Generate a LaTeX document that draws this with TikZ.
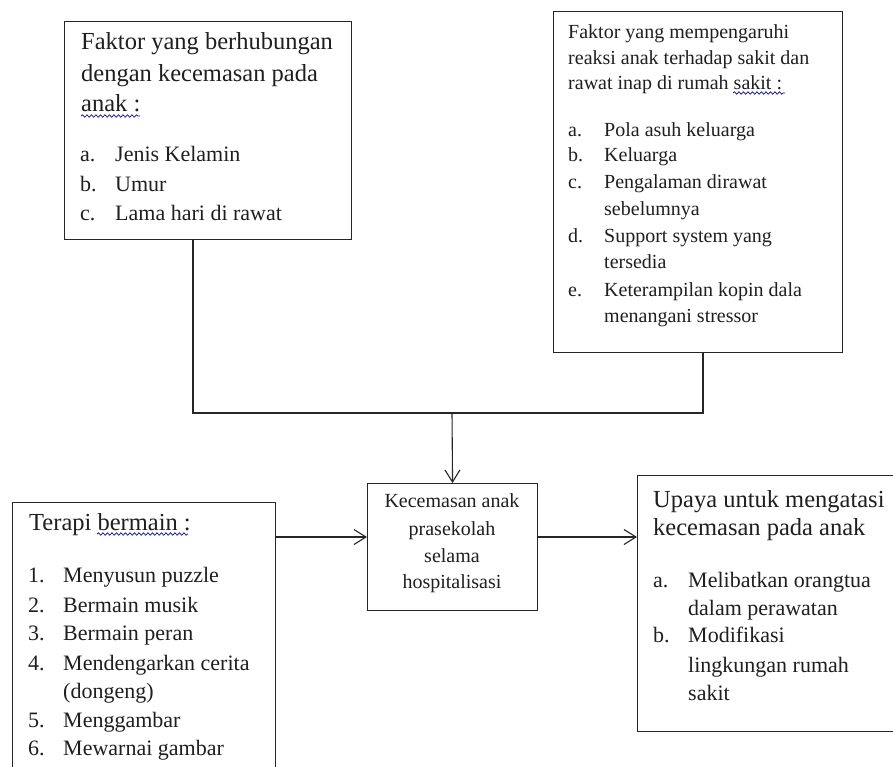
\documentclass[tikz,border=0pt]{standalone}
\usepackage{fontspec}
\setmainfont{Liberation Serif}
\usetikzlibrary{arrows.meta,decorations.pathmorphing}
\begin{document}
\begin{tikzpicture}[x=1pt,y=-1pt,
  box/.style={draw=black!85, line width=1.1pt, rectangle, inner sep=0pt, anchor=north west},
  ln/.style={anchor=base west, inner sep=0pt, text=black!88},
  cl/.style={anchor=base, inner sep=0pt, text=black!88},
  fa/.style={font=\fontsize{24.5}{29}\selectfont},
  fb/.style={font=\fontsize{22}{26}\selectfont},
  fc/.style={font=\fontsize{20}{24}\selectfont},
  conn/.style={draw=black!85, line width=1.1pt},
  arr/.style={conn, -{Straight Barb[length=12pt,width=15pt,line width=1.1pt]}},
  wavy/.style={draw=blue!70!black, line width=0.7pt, decorate, decoration={snake, amplitude=1.2pt, segment length=4.5pt}}
]
\clip (0,0) rectangle (893,767);
\fill[white] (0,0) rectangle (893,767);

% boxes
\node[box, minimum width=287pt, minimum height=218pt] (b1) at (64,21) {};
\node[box, minimum width=289pt, minimum height=341pt] (b2) at (553,11) {};
\node[box, minimum width=170pt, minimum height=127pt] (c) at (367,483) {};
\node[box, minimum width=263pt, minimum height=290pt] (l) at (12,502) {};
\node[box, minimum width=280pt, minimum height=256pt] (r) at (637,475) {};

% connectors
\coordinate (j) at (452,413);
\coordinate (ay) at (0,537);
\draw[conn] ([xshift=129pt]b1.south west) |- (j) -| ([xshift=150pt]b2.south west);
\draw[arr] (j) -- (c.north);
\draw[arr] (l.east |- ay) -- (c.west |- ay);
\draw[arr] (c.east |- ay) -- (r.west |- ay);

% box 1 text
\node[ln,fa] (b1h1) at (81,50) {Faktor yang berhubungan};
\node[ln,fa] (b1h2) at (81,82) {dengan kecemasan pada};
\node[ln,fa] (b1h3) at (81,112) {anak :};
\node[ln,fb] (b1a) at (80,162) {a.};
\node[ln,fb] (b1at) at (115,162) {Jenis Kelamin};
\node[ln,fb] (b1b) at (80,192) {b.};
\node[ln,fb] (b1bt) at (115,192) {Umur};
\node[ln,fb] (b1c) at (80,221) {c.};
\node[ln,fb] (b1ct) at (115,221) {Lama hari di rawat};
\draw[wavy] (81,116) -- (140,116);

% box 2 text
\node[ln,fc] (b2h1) at (568,39) {Faktor yang mempengaruhi};
\node[ln,fc] (b2h2) at (568,65) {reaksi anak terhadap sakit dan};
\node[ln,fc] (b2h3) at (568,90) {rawat inap di rumah sakit :};
\node[ln,fc] (b2a) at (568,137) {a.};
\node[ln,fc] (b2at) at (604,137) {Pola asuh keluarga};
\node[ln,fc] (b2b) at (568,162) {b.};
\node[ln,fc] (b2bt) at (604,162) {Keluarga};
\node[ln,fc] (b2c) at (568,189) {c.};
\node[ln,fc] (b2ct) at (604,189) {Pengalaman dirawat};
\node[ln,fc] (b2ct2) at (604,215) {sebelumnya};
\node[ln,fc] (b2d) at (568,243) {d.};
\node[ln,fc] (b2dt) at (604,243) {Support system yang};
\node[ln,fc] (b2dt2) at (604,268) {tersedia};
\node[ln,fc] (b2e) at (568,296) {e.};
\node[ln,fc] (b2et) at (604,296) {Keterampilan kopin dala};
\node[ln,fc] (b2et2) at (604,322) {menangani stressor};
\draw[wavy] (733,93) -- (785,93);

% left box text
\node[ln,fa] (lh) at (29,530) {Terapi bermain :};
\draw[wavy] (97,534) -- (188,534);
\node[ln,fb] (l1) at (28,582) {1.};
\node[ln,fb] (l1t) at (63,582) {Menyusun puzzle};
\node[ln,fb] (l2) at (28,612) {2.};
\node[ln,fb] (l2t) at (63,612) {Bermain musik};
\node[ln,fb] (l3) at (28,640) {3.};
\node[ln,fb] (l3t) at (63,640) {Bermain peran};
\node[ln,fb] (l4) at (28,670) {4.};
\node[ln,fb] (l4t) at (63,670) {Mendengarkan cerita};
\node[ln,fb] (l4t2) at (63,698) {(dongeng)};
\node[ln,fb] (l5) at (28,727) {5.};
\node[ln,fb] (l5t) at (63,727) {Menggambar};
\node[ln,fb] (l6) at (28,755) {6.};
\node[ln,fb] (l6t) at (63,755) {Mewarnai gambar};

% center box text
\node[cl,fc] (c1) at (452,507) {Kecemasan anak};
\node[cl,fc] (c2) at (452,535) {prasekolah};
\node[cl,fc] (c3) at (452,562) {selama};
\node[cl,fc] (c4) at (452,588) {hospitalisasi};

% right box text
\node[ln,fa] (rh1) at (653,507) {Upaya untuk mengatasi};
\node[ln,fa] (rh2) at (653,535) {kecemasan pada anak};
\node[ln,fb] (ra) at (653,587) {a.};
\node[ln,fb] (rat) at (688,587) {Melibatkan orangtua};
\node[ln,fb] (rat2) at (688,615) {dalam perawatan};
\node[ln,fb] (rb) at (653,642) {b.};
\node[ln,fb] (rbt) at (688,642) {Modifikasi};
\node[ln,fb] (rbt2) at (688,672) {lingkungan rumah};
\node[ln,fb] (rbt3) at (688,700) {sakit};
\end{tikzpicture}
\end{document}
